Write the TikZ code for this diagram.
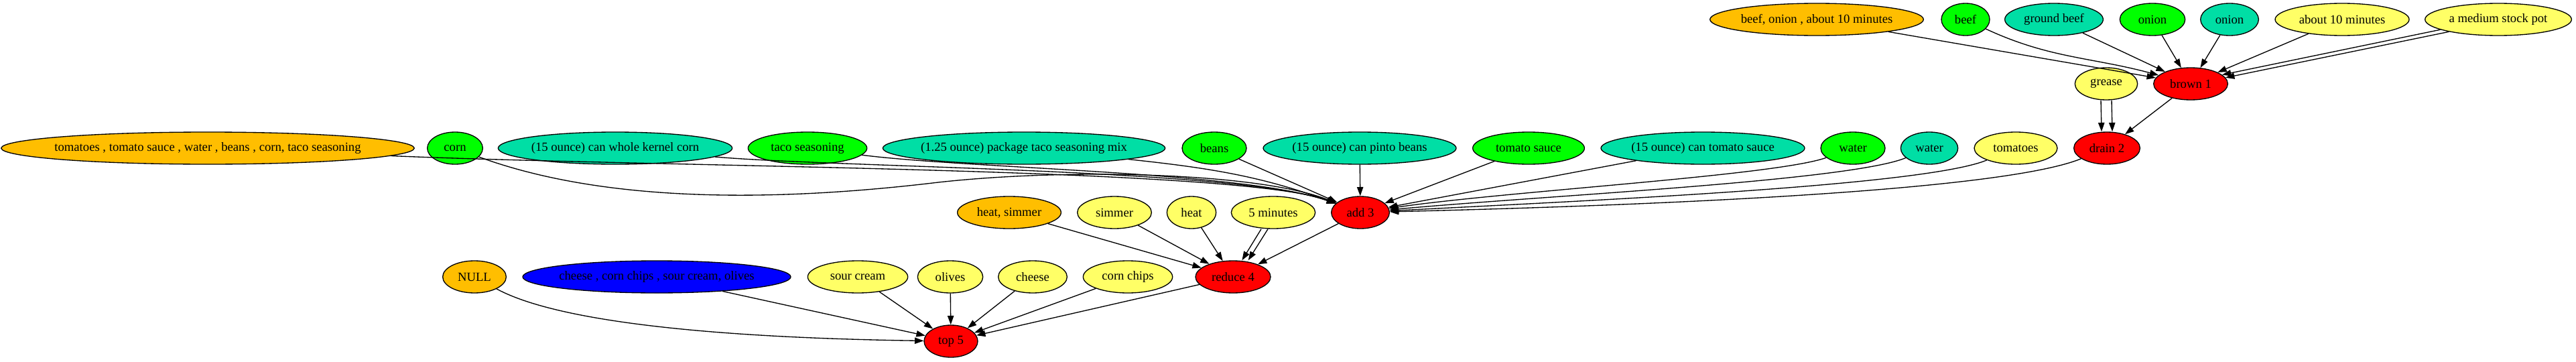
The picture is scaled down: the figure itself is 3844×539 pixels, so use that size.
\documentclass[tikz,border=0pt]{standalone}
\usepackage{fontspec}
\setmainfont{Liberation Serif}
\usepackage{xcolor}
\usepackage{tikz}
\usetikzlibrary{
  shapes.geometric,
  arrows.meta
}
\definecolor{StepRed}{RGB}{255,0,0}
\definecolor{RawGreen}{RGB}{0,255,0}
\definecolor{CanTeal}{RGB}{0,222,165}
\definecolor{ToolYellow}{RGB}{255,255,102}
\definecolor{MixOrange}{RGB}{255,190,0}
\definecolor{TopBlue}{RGB}{0,0,255}
\tikzset{
  %%── 椭圆节点 ─────────────────────────────────────────────
  oval/.style = {
    ellipse, draw = black, line width = 1pt,
    inner xsep = -8pt, inner ysep = 0pt,
    minimum height = 36pt, minimum width = 54pt,
    font = \fontsize{14}{16}\selectfont
  },
  act/.style  = {oval, fill = StepRed},
  raw/.style  = {oval, fill = RawGreen},
  can/.style  = {oval, fill = CanTeal},
  tool/.style = {oval, fill = ToolYellow},
  mix/.style  = {oval, fill = MixOrange},
  topg/.style = {oval, fill = TopBlue},
  %%── 箭头 ─────────────────────────────────────────────────
  arr/.style = {->, >= {Triangle[length = 10pt, width = 7pt]}, line width = 1pt},
}

\begin{document}
\begin{tikzpicture}[x = 0.75pt, y = 0.75pt]
  \useasboundingbox (0,0) rectangle (3844,-539);

  %% 第 1 行：brown 1 的输入
  \node[mix, minimum width = 239pt]  (bo)     at (2711,-29) {beef, onion , about 10 minutes};
  \node[raw]                          (beef)   at (2933,-29) {beef};
  \node[can, minimum width = 110pt]  (gbeef)  at (3065,-29) {ground beef};
  \node[raw, minimum width = 73pt]   (onionA) at (3212,-29) {onion};
  \node[can, minimum width = 65pt]   (onionB) at (3327,-29) {onion};
  \node[tool, minimum width = 150pt] (tenmin) at (3495,-29) {about 10 minutes};
  \node[tool, minimum width = 164pt] (pot)    at (3728,-29) {a medium stock pot};

  %% 第 2 行
  \node[tool, minimum width = 70pt]  (grease) at (3143,-125) {grease};
  \node[act, minimum width = 83pt]   (brown)  at (3269,-125) {brown 1};

  %% 第 3 行：add 3 的输入
  \node[mix, minimum width = 458pt]  (mix3)    at (310,-221)  {tomatoes , tomato sauce , water , beans , corn, taco seasoning};
  \node[raw, minimum width = 62pt]   (corn)    at (679,-221)  {corn};
  \node[can, minimum width = 262pt]  (kcorn)   at (918,-221)  {(15 ounce) can whole kernel corn};
  \node[raw, minimum width = 133pt]  (taco)    at (1205,-221) {taco seasoning};
  \node[can, minimum width = 316pt]  (tacomix) at (1528,-221) {(1.25 ounce) package taco seasoning mix};
  \node[raw, minimum width = 72pt]   (beans)   at (1812,-221) {beans};
  \node[can, minimum width = 216pt]  (pinto)   at (2029,-221) {(15 ounce) can pinto beans};
  \node[raw, minimum width = 125pt]  (tsauce)  at (2281,-221) {tomato sauce};
  \node[can, minimum width = 228pt]  (ctsauce) at (2541,-221) {(15 ounce) can tomato sauce};
  \node[raw, minimum width = 72pt]   (waterA)  at (2765,-221) {water};
  \node[can, minimum width = 64pt]   (waterB)  at (2879,-221) {water};
  \node[tool, minimum width = 93pt]  (tomatoes) at (3008,-221) {tomatoes};
  \node[act, minimum width = 74pt]   (drain)   at (3144,-221) {drain 2};

  %% 第 4 行
  \node[mix, minimum width = 116pt]  (hs)     at (1506,-317) {heat, simmer};
  \node[tool, minimum width = 83pt]  (simmer) at (1663,-317) {simmer};
  \node[tool, minimum width = 55pt]  (heat)   at (1778,-317) {heat};
  \node[tool, minimum width = 94pt]  (five)   at (1900,-317) {5 minutes};
  \node[act, minimum width = 65pt]   (add)    at (2030,-317) {add 3};

  %% 第 5 行
  \node[mix, minimum width = 71pt]   (null)   at (708,-413)  {NULL};
  \node[topg, minimum width = 300pt] (blue)   at (980,-413)  {cheese , corn chips , sour cream, olives};
  \node[tool, minimum width = 112pt] (sour)   at (1280,-413) {sour cream};
  \node[tool, minimum width = 73pt]  (olives) at (1418,-413) {olives};
  \node[tool, minimum width = 77pt]  (cheese) at (1541,-413) {cheese};
  \node[tool, minimum width = 100pt] (chips)  at (1683,-413) {corn chips};
  \node[act, minimum width = 84pt]   (reduce) at (1840,-413) {reduce 4};

  %% 第 6 行
  \node[act, minimum width = 60pt]   (top)    at (1419,-509) {top 5};

  %% 箭头 → brown 1
  \draw[arr] (bo) -- (brown);
  \draw[arr] (beef) to[out=-25, in=165] (brown);
  \draw[arr] (gbeef) -- (brown);
  \draw[arr] (onionA) -- (brown);
  \draw[arr] (onionB) -- (brown);
  \draw[arr] (tenmin) -- (brown);
  \draw[arr] (pot.190) -- (brown.16);
  \draw[arr] (pot.194) -- (brown.10);

  %% 箭头 → drain 2
  \draw[arr] ([xshift=-6pt]grease.south) -- ([xshift=-6pt]drain.north);
  \draw[arr] ([xshift=6pt]grease.south) -- ([xshift=6pt]drain.north);
  \draw[arr] (brown) -- (drain);

  %% 箭头 → add 3（左侧汇聚）
  \draw[arr] (mix3) .. controls (1000,-250) and (1850,-250) .. (add);
  \draw[arr] (corn) .. controls (900,-302) and (1150,-302) .. (1400,-272)
                    .. controls (1600,-250) and (1880,-258) .. (add);
  \draw[arr] (kcorn) .. controls (1250,-250) and (1850,-252) .. (add);
  \draw[arr] (taco) .. controls (1450,-252) and (1860,-256) .. (add);
  \draw[arr] (tacomix) .. controls (1800,-250) and (1880,-262) .. (add);
  \draw[arr] (beans) -- (add);
  \draw[arr] (pinto) -- (add);
  %% 右侧汇聚
  \draw[arr] (tsauce) -- (add);
  \draw[arr] (ctsauce) -- (add);
  \draw[arr] (waterA) .. controls (2650,-262) and (2250,-285) .. (add);
  \draw[arr] (waterB) .. controls (2760,-270) and (2300,-292) .. (add);
  \draw[arr] (tomatoes) .. controls (2870,-278) and (2350,-300) .. (add);
  \draw[arr] (drain) .. controls (2980,-288) and (2400,-308) .. (add);

  %% 箭头 → reduce 4
  \draw[arr] (hs) -- (reduce);
  \draw[arr] (simmer) -- (reduce);
  \draw[arr] (heat) -- (reduce);
  \draw[arr] ([xshift=-13.5pt]five.south) -- ([xshift=10pt]reduce.north);
  \draw[arr] ([xshift=-6pt]five.south) -- ([xshift=17pt]reduce.north);
  \draw[arr] (add) -- (reduce);

  %% 箭头 → top 5
  \draw[arr] (null) .. controls (850,-490) and (1150,-505) .. (top);
  \draw[arr] (blue) -- (top);
  \draw[arr] (sour) -- (top);
  \draw[arr] (olives) -- (top);
  \draw[arr] (cheese) -- (top);
  \draw[arr] (chips) -- (top);
  \draw[arr] (reduce) -- (top);

\end{tikzpicture}
\end{document}
